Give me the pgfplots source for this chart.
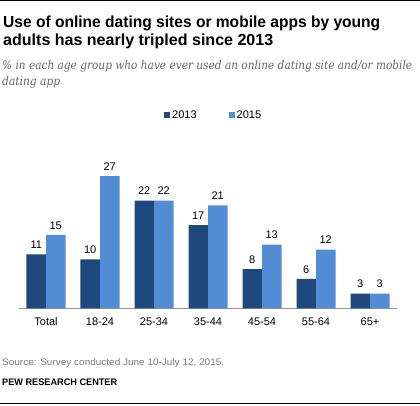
\documentclass[border=0pt]{standalone}
\usepackage{fontspec}
\setmainfont{Liberation Sans}
\newfontfamily\subfont{DejaVu Serif}
\usepackage{pgfplots}
\pgfplotsset{compat=1.18}
\definecolor{dark}{RGB}{31,73,125}
\definecolor{light}{RGB}{83,141,213}
\definecolor{txtgray}{RGB}{100,100,100}
\definecolor{srcgray}{RGB}{120,120,120}
\definecolor{axgray}{RGB}{150,150,150}
\newcommand{\fitw}[2]{\resizebox{#1}{\height}{#2}}

\begin{document}
\begin{tikzpicture}[x=1pt,y=1pt]
\useasboundingbox (0,0) rectangle (420,405);
\draw[line width=1.3pt] (0,404.2) -- (420,404.2);
\draw[line width=1pt] (0,2) -- (420,2);
\node[anchor=base west, inner sep=0, font=\fontsize{16}{18}\selectfont\bfseries] at (3,405-27.3) {\fitw{377pt}{Use of online dating sites or mobile apps by young}};
\node[anchor=base west, inner sep=0, font=\fontsize{16}{18}\selectfont\bfseries] at (3,405-46) {\fitw{270pt}{adults has nearly tripled since 2013}};
\node[anchor=base west, inner sep=0, text=txtgray, font=\fontsize{12}{14}\selectfont\subfont\itshape] at (2,405-70) {\fitw{410pt}{\% in each age group who have ever used an online dating site and/or mobile}};
\node[anchor=base west, inner sep=0, text=txtgray, font=\fontsize{12}{14}\selectfont\subfont\itshape] at (2,405-85.5) {\fitw{58pt}{dating app}};
\node[anchor=base west, inner sep=0, text=srcgray, font=\fontsize{9.5}{11}\selectfont] at (2,405-365.5) {\fitw{222pt}{Source: Survey conducted June 10-July 12, 2015.}};
\node[anchor=base west, inner sep=0, text=black, font=\fontsize{9.5}{11}\selectfont\bfseries] at (2,405-385.7) {\fitw{115pt}{PEW RESEARCH CENTER}};
\begin{axis}[
  at={(19pt,96.7pt)}, anchor=south west,
  scale only axis, width=378pt, height=147pt,
  xmin=-0.5, xmax=6.5, ymin=0, ymax=30,
  axis x line*=bottom, axis y line=none,
  x axis line style={axgray, line width=0.8pt},
  ybar=0pt, bar width=19.5pt,
  xtick={0,1,2,3,4,5,6},
  xticklabels={Total,18-24,25-34,35-44,45-54,55-64,65+},
  major tick length=0pt,
  xticklabel style={font=\fontsize{11}{13}\selectfont, yshift=-6pt},
  nodes near coords,
  nodes near coords style={font=\fontsize{11}{13}\selectfont, text=black, yshift=2pt},
  /pgf/number format/assume math mode=true,
  legend style={draw=none, fill=none, at={(0.515,1.315)}, anchor=center,
    font=\fontsize{11}{13}\selectfont, inner sep=0pt,
    /tikz/every even column/.append style={column sep=30pt}},
  legend columns=2,
  legend image code/.code={\fill (0pt,-3pt) rectangle (6pt,3pt);},
]
\addplot[fill=dark, draw=none] coordinates {(0,11) (1,10) (2,22) (3,17) (4,8) (5,6) (6,3)};
\addplot[fill=light, draw=none] coordinates {(0,15) (1,27) (2,22) (3,21) (4,13) (5,12) (6,3)};
\legend{2013,2015}
\end{axis}
\end{tikzpicture}
\end{document}
